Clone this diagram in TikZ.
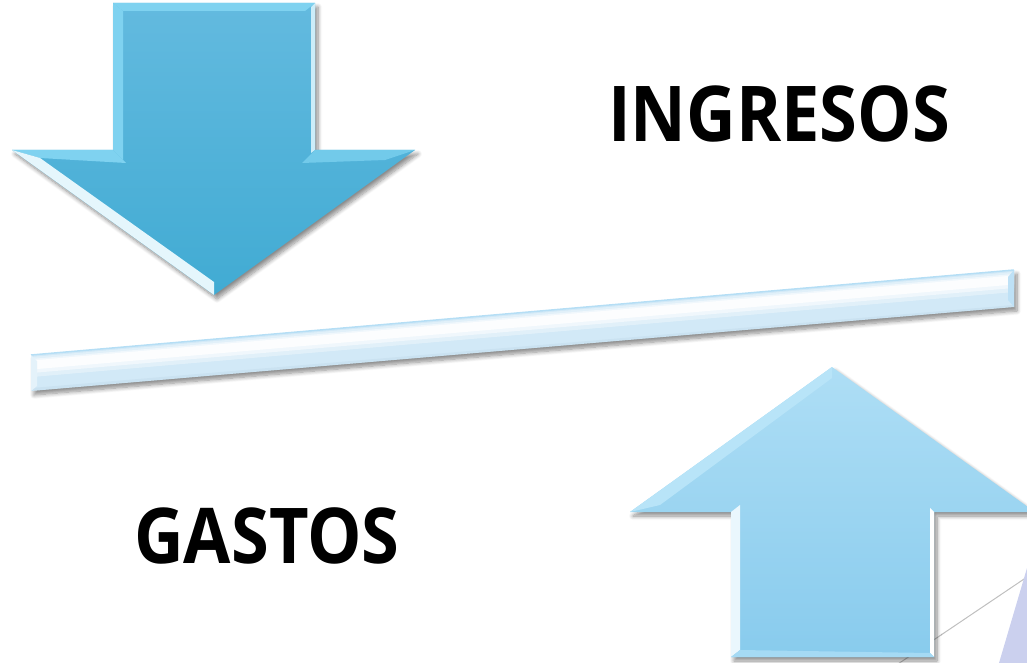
\documentclass[tikz,border=0pt]{standalone}
\usepackage{fontspec}
\setmainfont{Open Sans}
\usetikzlibrary{shadows.blur}
\definecolor{downtop}{HTML}{63BADF}
\definecolor{downbot}{HTML}{41ABD3}
\definecolor{downbevel}{HTML}{7FD2F0}
\definecolor{uptop}{HTML}{AEDEF5}
\definecolor{upbot}{HTML}{88CBED}
\definecolor{upbevel}{HTML}{B8E4F8}
\definecolor{barfill}{HTML}{D2E9F7}
\definecolor{baredge}{HTML}{B5DEF5}
\definecolor{lavender}{HTML}{CBD0EE}
\tikzset{
  softshadow/.style={blur shadow={shadow xshift=3pt,shadow yshift=-4pt,shadow opacity=45,shadow blur steps=8,shadow blur radius=4pt}},
  label/.style={font=\bfseries\fontsize{77}{80}\selectfont, inner sep=0pt, anchor=base}
}
\begin{document}
\begin{tikzpicture}[x=1pt,y=-1pt]
\useasboundingbox (0,0) rectangle (1027,663);
\clip (0,0) rectangle (1027,663);
% corner decoration
\draw[black!25, line width=1pt] (895,666) -- (1030,575);
\fill[lavender] (999,663) -- (1027,568) -- (1027,663) -- cycle;

% down arrow
\path[softshadow, top color=downtop, bottom color=downbot]
  (113,3) -- (315,3) -- (315,150) -- (415,150) -- (214,295) -- (12,150) -- (113,150) -- cycle;
\fill[downbevel] (113,3) -- (315,3) -- (305,11) -- (123,11) -- cycle;
\fill[downbevel] (113,3) -- (123,11) -- (123,160) -- (113,150) -- cycle;
\fill[white!60!downbevel] (315,3) -- (315,150) -- (311,153) -- (311,7) -- cycle;
\fill[downbevel] (12,150) -- (113,150) -- (126,163) -- (40,158) -- cycle;
\fill[white!80!downbevel] (12,150) -- (214,295) -- (214,282) -- (40,158) -- cycle;
\fill[downbevel!80!downbot] (315,150) -- (415,150) -- (385,160) -- (302,163) -- cycle;

% bar
\path[softshadow, fill=barfill] (31,355) -- (1014,270) -- (1014,307) -- (31,391) -- cycle;
\begin{scope}
  \clip (31,355) -- (1014,270) -- (1014,307) -- (31,391) -- cycle;
  \draw[white, opacity=0.35, line width=20pt] (20,368) -- (1025,281);
  \draw[white, opacity=0.5, line width=14pt] (20,367) -- (1025,280);
  \draw[white, opacity=0.8, line width=9pt] (20,366) -- (1025,279);
  \draw[barfill!85!black!60!baredge, opacity=0.25, line width=6pt] (20,392) -- (1025,307);
\end{scope}
\draw[baredge, line width=1.5pt] (31,355) -- (1014,270);
\fill[white!40!barfill] (31,355) -- (37,361) -- (37,386) -- (31,391) -- cycle;
\fill[baredge!70!barfill] (1014,270) -- (1014,307) -- (1008,300) -- (1008,277) -- cycle;

% up arrow
\path[softshadow, top color=uptop, bottom color=upbot]
  (832,367) -- (1035,512) -- (934,512) -- (934,657) -- (731,657) -- (731,512) -- (630,512) -- cycle;
\fill[upbevel] (832,367) -- (832,378) -- (660,505) -- (630,512) -- cycle;
\fill[white!70!upbevel] (731,512) -- (740,505) -- (740,650) -- (731,657) -- cycle;
\fill[white] (934,512) -- (934,657) -- (930,653) -- (930,508) -- cycle;
\fill[upbevel!60!upbot] (731,657) -- (934,657) -- (930,653) -- (740,650) -- cycle;

% texts
\node[label] (ingresos) at (779,142) {\scalebox{0.89}[1]{INGRESOS}};
\node[label] (gastos) at (267,563) {\scalebox{0.89}[1]{GASTOS}};
\end{tikzpicture}
\end{document}
